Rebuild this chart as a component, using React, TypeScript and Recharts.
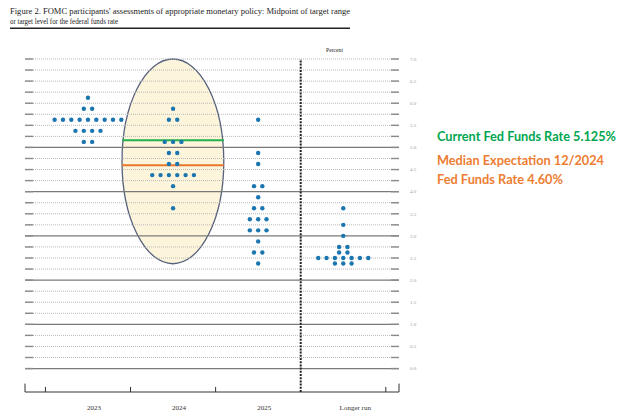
import React from 'react'
import { ScatterChart, Scatter, XAxis, YAxis, ReferenceLine, ReferenceArea } from 'recharts'

const categories = ['2023', '2024', '2025', 'Longer run']

// [midpoint of target range, number of participants]
const dots2023 = [[6.125, 1], [5.875, 2], [5.625, 9], [5.375, 4], [5.125, 2]]
const dots2024 = [[5.875, 1], [5.625, 2], [5.125, 3], [4.875, 2], [4.625, 2], [4.375, 6], [4.125, 1], [3.625, 1]]
const dots2025 = [
  [5.625, 1], [4.875, 1], [4.625, 1], [4.125, 2], [3.875, 1], [3.625, 2],
  [3.375, 3], [3.125, 3], [2.875, 1], [2.625, 2], [2.375, 1]
]
const dotsLongerRun = [[3.625, 1], [3.25, 1], [3.0, 1], [2.75, 2], [2.625, 2], [2.5, 7], [2.375, 3]]

const yTickLabels = ['0.0', '0.5', '1.0', '1.5', '2.0', '2.5', '3.0', '3.5', '4.0', '4.5', '5.0', '5.5', '6.0', '6.5', '7.0']
const currentRate = 5.16
const medianRate = 4.6

const X_MIN = -0.74
const X_MAX = 3.655
const Y_MIN = -0.53
const DOT_STEP = 0.098
const DOT_COLOR = '#1b76b0'
const SERIF = '"Liberation Serif", "DejaVu Serif", serif'

function spread(rows: number[][], center: number) {
  const pts: { x: number; y: number }[] = []
  rows.forEach(([rate, count]) => {
    for (let j = 0; j < count; j++) pts.push({ x: center + (j - (count - 1) / 2) * DOT_STEP, y: rate })
  })
  return pts
}

const allSeries = [dots2023, dots2024, dots2025, dotsLongerRun].map((rows, i) => spread(rows, i))

const gridLevels = Array.from({ length: 29 }, (_, i) => i * 0.25)
const bottomTicks = [-0.5, 0.5, 1.5, 3.5]

const Dot = (p: any) => <circle cx={p.cx} cy={p.cy} r={2.2} fill={DOT_COLOR} />

const CatTick = ({ x, y, payload }: any) => {
  const i = payload.value
  const dx = i === 3 ? 12 : 6
  return (
    <text x={x + dx} y={y + 15.5} textAnchor="middle" fontSize={7} fontFamily={SERIF} fill="#333">
      {categories[i]}
    </text>
  )
}

const EllipseShape = (p: any) => (
  <ellipse
    cx={p.x + p.width / 2}
    cy={p.y + p.height / 2}
    rx={p.width / 2}
    ry={p.height / 2}
    fill="#fdf3d2"
    fillOpacity={0.8}
    stroke="#56617c"
    strokeWidth={1.3}
  />
)

export default function App() {
  return (
    <div style={{ position: 'absolute', left: 0, top: 0, width: 624, height: 418, background: '#fff' }}>
      <ScatterChart width={624} height={418} margin={{ top: 59, right: 200, bottom: 0, left: 25 }}>
        <XAxis
          type="number"
          dataKey="x"
          height={26}
          domain={[X_MIN, X_MAX]}
          allowDataOverflow
          ticks={[0, 1, 2, 3]}
          interval={0}
          tick={<CatTick />}
          tickLine={false}
          tickSize={0}
          axisLine={{ stroke: '#333', strokeWidth: 1 }}
        />
        <YAxis
          type="number"
          dataKey="y"
          orientation="right"
          width={25}
          domain={[Y_MIN, 7]}
          allowDataOverflow
          ticks={yTickLabels.map(Number)}
          interval={0}
          tickFormatter={(v: number) => v.toFixed(1)}
          tick={{ fontSize: 5, fill: '#999', fontFamily: SERIF }}
          tickLine={false}
          tickSize={0}
          tickMargin={11}
          axisLine={false}
        />
        {gridLevels.map((v) => {
          const solid = Number.isInteger(v) && v <= 5
          return (
            <ReferenceLine
              key={'g' + v}
              segment={[{ x: X_MIN, y: v }, { x: X_MAX, y: v }]}
              stroke={solid ? '#7a7a7a' : '#b8b8b8'}
              strokeWidth={solid ? 1.2 : 1}
              strokeDasharray={solid ? undefined : '1 1'}
            />
          )
        })}
        {gridLevels.map((v) => (
          <ReferenceLine key={'l' + v} segment={[{ x: X_MIN, y: v }, { x: X_MIN + 0.095, y: v }]} stroke="#8a8a8a" strokeWidth={1.4} />
        ))}
        {gridLevels.map((v) => (
          <ReferenceLine key={'r' + v} segment={[{ x: X_MAX - 0.095, y: v }, { x: X_MAX, y: v }]} stroke="#8a8a8a" strokeWidth={1.4} />
        ))}
        {bottomTicks.map((t) => (
          <ReferenceLine key={'t' + t} segment={[{ x: t, y: Y_MIN }, { x: t, y: Y_MIN + 0.115 }]} stroke="#333" strokeWidth={1} />
        ))}
        <ReferenceLine segment={[{ x: X_MIN, y: Y_MIN }, { x: X_MIN, y: Y_MIN + 0.19 }]} stroke="#333" strokeWidth={1} />
        <ReferenceLine segment={[{ x: X_MAX, y: Y_MIN }, { x: X_MAX, y: Y_MIN + 0.19 }]} stroke="#333" strokeWidth={1} />
        <ReferenceLine segment={[{ x: 2.5, y: Y_MIN }, { x: 2.5, y: 7 }]} stroke="#222" strokeWidth={2} strokeDasharray="2 1.2" />
        <ReferenceArea x1={0.4} x2={1.596} y1={2.37} y2={7} shape={<EllipseShape />} />
        <ReferenceLine segment={[{ x: 0.4, y: currentRate }, { x: 1.596, y: currentRate }]} stroke="#22b04b" strokeWidth={2} />
        <ReferenceLine segment={[{ x: 0.4, y: medianRate }, { x: 1.596, y: medianRate }]} stroke="#e8772e" strokeWidth={2} />
        {allSeries.map((data, i) => (
          <Scatter key={categories[i]} data={data} shape={<Dot />} isAnimationActive={false} />
        ))}
      </ScatterChart>
      <svg width={624} height={418} style={{ position: 'absolute', left: 0, top: 0, pointerEvents: 'none' }}>
        <text x={10} y={13.5} fontFamily={SERIF} fontSize={7.8} fill="#222" textLength={340} lengthAdjust="spacingAndGlyphs">
          Figure 2.  FOMC participants' assessments of appropriate monetary policy:  Midpoint of target range
        </text>
        <text x={10} y={23.5} fontFamily={SERIF} fontSize={7.8} fill="#222" textLength={108} lengthAdjust="spacingAndGlyphs">
          or target level for the federal funds rate
        </text>
        <line x1={10} x2={350} y1={28.3} y2={28.3} stroke="#222" strokeWidth={1.4} />
        <text x={326} y={52} fontFamily={SERIF} fontSize={6} fill="#222" textLength={17} lengthAdjust="spacingAndGlyphs">
          Percent
        </text>
        <text x={437} y={141} fontFamily="Lato, sans-serif" fontWeight={700} fontSize={12.8} fill="#00a650" textLength={179} lengthAdjust="spacingAndGlyphs">
          Current Fed Funds Rate 5.125%
        </text>
        <text x={437} y={164.7} fontFamily="Lato, sans-serif" fontWeight={700} fontSize={12.8} fill="#ed7d31" textLength={167} lengthAdjust="spacingAndGlyphs">
          Median Expectation 12/2024
        </text>
        <text x={437} y={184} fontFamily="Lato, sans-serif" fontWeight={700} fontSize={12.8} fill="#ed7d31" textLength={126} lengthAdjust="spacingAndGlyphs">
          Fed Funds Rate 4.60%
        </text>
      </svg>
    </div>
  )
}
